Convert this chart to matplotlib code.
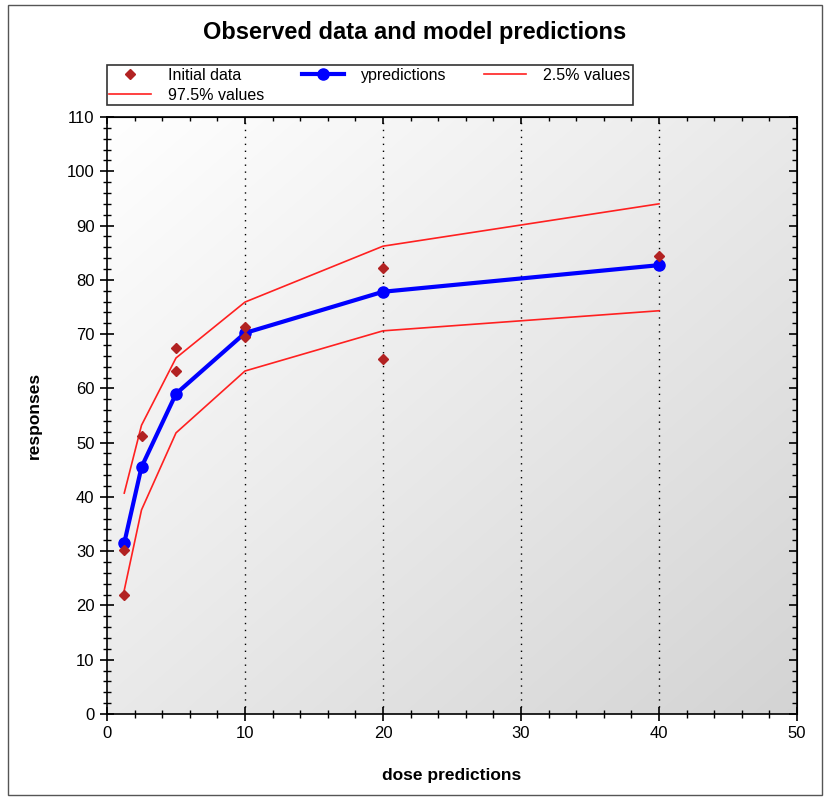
import numpy as np
import matplotlib
matplotlib.use("Agg")
import matplotlib.pyplot as plt
from matplotlib.patches import Rectangle
from matplotlib.ticker import MultipleLocator

plt.rcParams['font.family'] = ['Liberation Sans', 'DejaVu Sans']

# Data
obs_x = [1.25, 1.25, 2.5, 5, 5, 10, 10, 20, 20, 40]
obs_y = [30.2, 21.9, 51.2, 67.4, 63.2, 71.3, 69.5, 82.2, 65.4, 84.4]

dose = [1.25, 2.5, 5, 10, 20, 40]
ypred = [31.5, 45.5, 59.0, 70.2, 77.8, 82.7]
lower = [22.8, 37.6, 51.8, 63.2, 70.6, 74.3]
upper = [40.7, 53.2, 65.6, 75.9, 86.2, 94.0]

W, H = 827, 800
fig = plt.figure(figsize=(W/100, H/100), dpi=100)
ax = fig.add_axes([107/W, 1-714/H, (797-107)/W, (714-117)/H])

# gradient background (white top-left to grey bottom-right)
gx, gy = np.meshgrid(np.linspace(0, 1, 256), np.linspace(0, 1, 256))
v = 1.0 - 0.17 * (gx + gy) / 2.0
img = np.dstack([v, v, v])
ax.imshow(img, extent=[0, 1, 0, 1], transform=ax.transAxes,
          origin='upper', aspect='auto', zorder=0, interpolation='bilinear')

ax.set_xlim(0, 50)
ax.set_ylim(0, 110)

for xv in [10, 20, 30, 40]:
    ax.axvline(xv, color='black', linestyle=(0, (1, 4)), linewidth=1.0, zorder=1)

ax.plot(dose, lower, color='#ff2020', linewidth=1.2, label='2.5% values', zorder=3)
ax.plot(dose, upper, color='#ff2020', linewidth=1.2, label='97.5% values', zorder=3)
ax.plot(dose, ypred, color='#0000ff', linewidth=3, marker='o', markersize=8,
        label='ypredictions', zorder=4)
ax.plot(obs_x, obs_y, linestyle='none', marker='D', markersize=5,
        color='#b22222', label='Initial data', zorder=5)

ax.xaxis.set_major_locator(MultipleLocator(10))
ax.xaxis.set_minor_locator(MultipleLocator(2))
ax.yaxis.set_major_locator(MultipleLocator(10))
ax.yaxis.set_minor_locator(MultipleLocator(2))
ax.tick_params(which='major', direction='inout', length=10, width=1.2,
               labelsize=12, top=False, right=False, pad=4)
ax.tick_params(which='minor', direction='inout', length=6, width=1.0,
               top=False, right=False)
for s in ax.spines.values():
    s.set_linewidth(1.2)

# top and right: inward ticks, no labels
sx = ax.secondary_xaxis('top')
sx.xaxis.set_major_locator(MultipleLocator(10))
sx.xaxis.set_minor_locator(MultipleLocator(2))
sx.tick_params(which='major', direction='in', length=5, width=1.2, labeltop=False)
sx.tick_params(which='minor', direction='in', length=3, width=1.0)
sy = ax.secondary_yaxis('right')
sy.yaxis.set_major_locator(MultipleLocator(10))
sy.yaxis.set_minor_locator(MultipleLocator(2))
sy.tick_params(which='major', direction='in', length=6, width=1.2, labelright=False)
sy.tick_params(which='minor', direction='in', length=3.5, width=1.0)

ax.set_xlabel('dose predictions', fontsize=12.5, fontweight='bold', labelpad=19)
ax.set_ylabel('responses', fontsize=12.5, fontweight='bold', labelpad=18)

fig.text(415/W, 1-33/H, 'Observed data and model predictions', fontsize=17,
         fontweight='bold', ha='center', va='center')

handles, labels = ax.get_legend_handles_labels()
# column-major fill -> row1: Initial data, ypredictions, 2.5%; row2: 97.5%
order = [3, 1, 2, 0]
leg = fig.legend([handles[i] for i in order], [labels[i] for i in order],
                 ncol=3, loc='lower left', mode='expand',
                 bbox_to_anchor=(107/W, 1-105/H, (633-107)/W, 43/H),
                 borderaxespad=0, fontsize=11.5, fancybox=False, frameon=True,
                 edgecolor='black', borderpad=0.15, handlelength=2.6,
                 labelspacing=0.3, columnspacing=1.0, handletextpad=1.1)
leg.get_frame().set_linewidth(1.2)

fig.patches.append(Rectangle((8/W, 5/H), 814/W, 790/H, transform=fig.transFigure,
                             fill=False, edgecolor='#555555', linewidth=1.0))

fig.savefig('out.png', dpi=100)
